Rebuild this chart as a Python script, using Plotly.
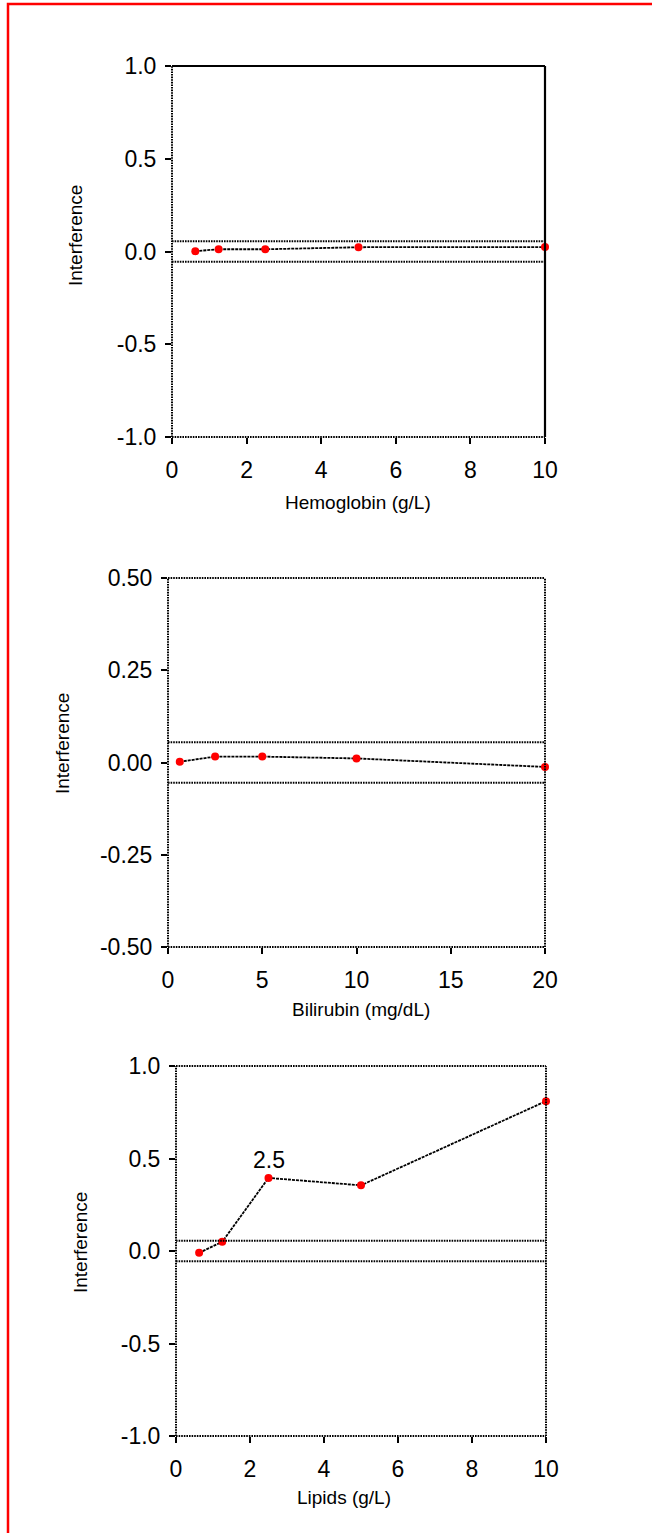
import plotly.graph_objects as go

W, H = 652, 1533

# ---------------- data ----------------
hb_x = [0.625, 1.25, 2.5, 5, 10]
hb_y = [0.002, 0.012, 0.012, 0.023, 0.024]

bil_x = [0.625, 2.5, 5, 10, 20]
bil_y = [0.002, 0.016, 0.016, 0.011, -0.012]

lip_x = [0.625, 1.25, 2.5, 5, 10]
lip_y = [-0.01, 0.05, 0.395, 0.355, 0.81]

band_limit = 0.055

hb_xticks = [0, 2, 4, 6, 8, 10]
bil_xticks = [0, 5, 10, 15, 20]
lip_xticks = [0, 2, 4, 6, 8, 10]

y1_ticks = [-1.0, -0.5, 0.0, 0.5, 1.0]
y1_labels = ["-1.0", "-0.5", "0.0", "0.5", "1.0"]
y2_ticks = [-0.5, -0.25, 0.0, 0.25, 0.5]
y2_labels = ["-0.50", "-0.25", "0.00", "0.25", "0.50"]

x_titles = ["Hemoglobin (g/L)", "Bilirubin (mg/dL)", "Lipids (g/L)"]
y_title = "Interference"
lip_annot_x = 2.5
lip_annot_text = "2.5"

# ---------------- layout helpers ----------------
def px2x(p):
    return p / W

def py2y(p):
    return 1 - p / H

panels = [
    dict(x=hb_x, y=hb_y, xr=[0, 10], yr=[-1, 1], xt=hb_xticks, yt=y1_ticks, yl=y1_labels,
         px=(172, 545), py=(66, 437), solid_tr=True,
         xtitle_pos=(358, 503), ytitle_pos=(75, 236)),
    dict(x=bil_x, y=bil_y, xr=[0, 20], yr=[-0.5, 0.5], xt=bil_xticks, yt=y2_ticks, yl=y2_labels,
         px=(168, 545), py=(578, 947), solid_tr=False,
         xtitle_pos=(361, 1009), ytitle_pos=(62, 744)),
    dict(x=lip_x, y=lip_y, xr=[0, 10], yr=[-1, 1], xt=lip_xticks, yt=y1_ticks, yl=y1_labels,
         px=(176, 546), py=(1066, 1436), solid_tr=False,
         xtitle_pos=(344, 1497), ytitle_pos=(80, 1243)),
]

FONT = "Liberation Sans, Arial, sans-serif"
DOT = "1.6px,1px"
TICK_SIZE = 23
TITLE_SIZE = 19

fig = go.Figure()
shapes = []
annotations = []
layout_axes = {}

for i, p in enumerate(panels):
    n = "" if i == 0 else str(i + 1)
    xa, ya = "x" + n, "y" + n
    fig.add_trace(go.Scatter(
        x=p["x"], y=p["y"], mode="lines+markers", xaxis=xa, yaxis=ya,
        line=dict(color="black", width=1.8, dash="3px,1px"),
        marker=dict(color="red", size=8),
        cliponaxis=False, showlegend=False, hoverinfo="x+y"))

    layout_axes["xaxis" + n] = dict(
        domain=[px2x(p["px"][0]), px2x(p["px"][1])], range=p["xr"], anchor=ya,
        tickmode="array", tickvals=p["xt"], ticktext=[str(v) for v in p["xt"]],
        ticks="outside", ticklen=6, tickwidth=1.8, tickcolor="black",
        ticklabelstandoff=6, automargin=False,
        showline=False, showgrid=False, zeroline=False,
        tickfont=dict(family=FONT, size=TICK_SIZE, color="black"))
    layout_axes["yaxis" + n] = dict(
        domain=[py2y(p["py"][1]), py2y(p["py"][0])], range=p["yr"], anchor=xa,
        tickmode="array", tickvals=p["yt"], ticktext=p["yl"],
        ticks="outside", ticklen=6, tickwidth=1.8, tickcolor="black",
        ticklabelstandoff=4, automargin=False,
        showline=False, showgrid=False, zeroline=False,
        tickfont=dict(family=FONT, size=TICK_SIZE, color="black"))

    xd, yd = xa + " domain", ya + " domain"
    dot_line = dict(color="black", width=2, dash=DOT)
    solid_line = dict(color="black", width=2.2)
    # left & bottom
    shapes.append(dict(type="line", xref=xd, yref=yd, x0=0, x1=0, y0=0, y1=1, line=dot_line))
    shapes.append(dict(type="line", xref=xd, yref=yd, x0=0, x1=1, y0=0, y1=0, line=dot_line))
    tr = solid_line if p["solid_tr"] else dot_line
    shapes.append(dict(type="line", xref=xd, yref=yd, x0=0, x1=1, y0=1, y1=1, line=tr))
    shapes.append(dict(type="line", xref=xd, yref=yd, x0=1, x1=1, y0=0, y1=1, line=tr))
    # tolerance band
    for b in (band_limit, -band_limit):
        shapes.append(dict(type="line", xref=xd, yref=ya, x0=0, x1=1, y0=b, y1=b, line=dot_line))

    annotations.append(dict(text=x_titles[i], xref="paper", yref="paper",
                            x=px2x(p["xtitle_pos"][0]), y=py2y(p["xtitle_pos"][1]),
                            xanchor="center", yanchor="middle", showarrow=False,
                            font=dict(family=FONT, size=TITLE_SIZE, color="black")))
    annotations.append(dict(text=y_title, xref="paper", yref="paper", textangle=-90,
                            x=px2x(p["ytitle_pos"][0]), y=py2y(p["ytitle_pos"][1]),
                            xanchor="center", yanchor="middle", showarrow=False,
                            font=dict(family=FONT, size=TITLE_SIZE, color="black")))

# label over the lipids point
li = lip_x.index(lip_annot_x)
annotations.append(dict(text=lip_annot_text, xref="x3", yref="y3", x=lip_x[li], y=lip_y[li],
                        yshift=18, xanchor="center", yanchor="middle", showarrow=False,
                        font=dict(family=FONT, size=TICK_SIZE, color="black")))

# red outer frame
shapes.append(dict(type="rect", xref="paper", yref="paper",
                   x0=px2x(8), x1=1.05, y0=-0.05, y1=py2y(4),
                   line=dict(color="red", width=2.5), fillcolor="rgba(0,0,0,0)"))

fig.update_layout(
    width=W, height=H, margin=dict(l=0, r=0, t=0, b=0, pad=0),
    paper_bgcolor="white", plot_bgcolor="white",
    shapes=shapes, annotations=annotations, showlegend=False,
    **layout_axes)

fig.write_html("out.html", config={"displayModeBar": False},
               post_script="document.body.style.margin='0';document.body.style.overflow='hidden';")
